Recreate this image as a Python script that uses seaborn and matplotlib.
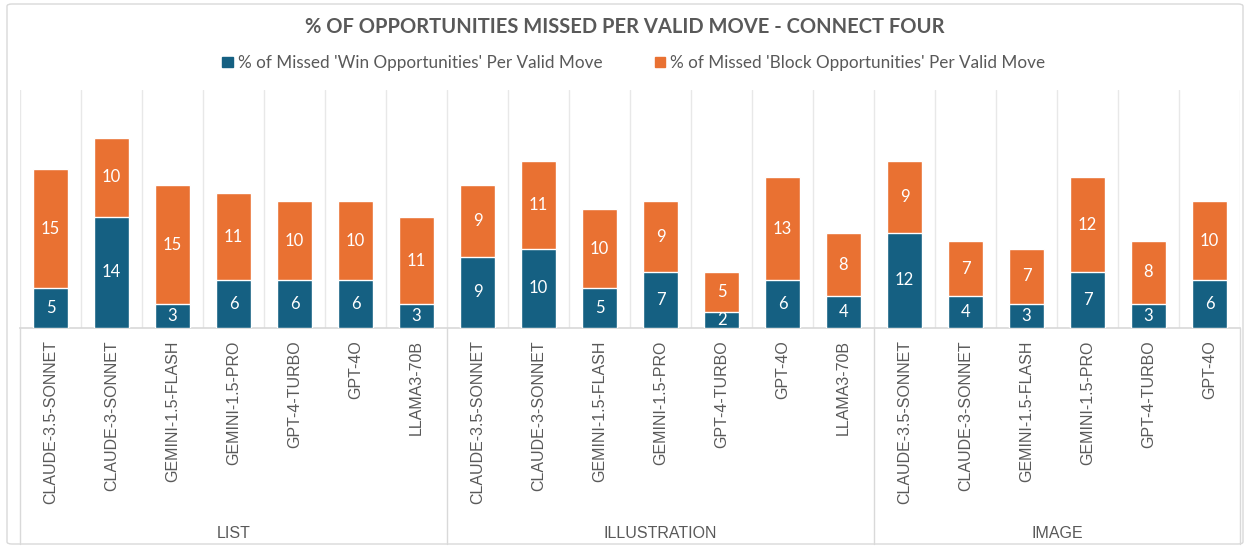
import numpy as np
import pandas as pd
import matplotlib
matplotlib.use('Agg')
import matplotlib.pyplot as plt
import matplotlib.transforms as mtransforms
from matplotlib.patches import Patch, FancyBboxPatch
import seaborn as sns

# Data
models = ['CLAUDE-3.5-SONNET', 'CLAUDE-3-SONNET', 'GEMINI-1.5-FLASH', 'GEMINI-1.5-PRO',
          'GPT-4-TURBO', 'GPT-4O', 'LLAMA3-70B',
          'CLAUDE-3.5-SONNET', 'CLAUDE-3-SONNET', 'GEMINI-1.5-FLASH', 'GEMINI-1.5-PRO',
          'GPT-4-TURBO', 'GPT-4O', 'LLAMA3-70B',
          'CLAUDE-3.5-SONNET', 'CLAUDE-3-SONNET', 'GEMINI-1.5-FLASH', 'GEMINI-1.5-PRO',
          'GPT-4-TURBO', 'GPT-4O']
groups = ['LIST', 'ILLUSTRATION', 'IMAGE']
group_sizes = [7, 7, 6]
win_pct = [5, 14, 3, 6, 6, 6, 3,
           9, 10, 5, 7, 2, 6, 4,
           12, 4, 3, 7, 3, 6]
block_pct = [15, 10, 15, 11, 10, 10, 11,
             9, 11, 10, 9, 5, 13, 8,
             9, 7, 7, 12, 8, 10]

BLUE = '#156082'
ORANGE = '#E97132'
TEXT = '#595959'
LINE = '#D9D9D9'
GRID = '#E8E8E8'
AXIS_FONT = ['Liberation Sans', 'DejaVu Sans']

df = pd.DataFrame({'pos': range(len(models)), 'model': models,
                   'win': win_pct, 'block': block_pct})
df['total'] = df['win'] + df['block']

sns.set_theme(style='white')
plt.rcParams['font.family'] = ['Lato', 'DejaVu Sans']

fig = plt.figure(figsize=(12.5, 5.48), dpi=100)
ax = fig.add_axes([0.016, 0.4015, 0.976, 0.434])

sns.barplot(data=df, x='pos', y='total', color=ORANGE, width=0.56, saturation=1, ax=ax, zorder=2)
sns.barplot(data=df, x='pos', y='win', color=BLUE, width=0.56, saturation=1, ax=ax, zorder=3)

ax.set_xlim(-0.5, len(models) - 0.5)
ax.set_ylim(0, 30)

# vertical gridlines between bars
for b in np.arange(-0.5, len(models)):
    ax.axvline(b, color=GRID, lw=1, zorder=0)

for s in ['top', 'left', 'right']:
    ax.spines[s].set_visible(False)
ax.spines['bottom'].set_color(LINE)

ax.set_yticks([])
ax.tick_params(axis='x', length=0, pad=9)
ax.set_xticks(range(len(models)), labels=models)
for lbl in ax.get_xticklabels():
    lbl.set_rotation(90)
    lbl.set_fontsize(11.5)
    lbl.set_color(TEXT)
    lbl.set_fontfamily(AXIS_FONT)
ax.set_xlabel('')
ax.set_ylabel('')

# segment labels
for i, (w, b) in enumerate(zip(win_pct, block_pct)):
    ax.text(i, w / 2, str(w), ha='center', va='center', color='white', fontsize=12, zorder=4)
    ax.text(i, w + b / 2, str(b), ha='center', va='center', color='white', fontsize=12, zorder=4)

# group separators and labels below the axis
trans = mtransforms.blended_transform_factory(ax.transData, ax.transAxes)
bounds = np.concatenate([[0], np.cumsum(group_sizes)]) - 0.5
for b in bounds:
    ax.plot([b, b], [0, -0.91], transform=trans, clip_on=False, color=LINE, lw=1)
for g, lo, hi in zip(groups, bounds[:-1], bounds[1:]):
    ax.text((lo + hi) / 2, -0.866, g, transform=trans, ha='center', va='center',
            fontsize=11.5, color=TEXT, fontfamily=AXIS_FONT)

# legend and title
handles = [Patch(color=BLUE), Patch(color=ORANGE)]
labels = ["% of Missed 'Win Opportunities' Per Valid Move",
          "% of Missed 'Block Opportunities' Per Valid Move"]
leg = fig.legend(handles, labels, loc='center', bbox_to_anchor=(0.507, 1 - 63 / 548), ncol=2,
                 frameon=False, fontsize=12.3, handlelength=0.6, handleheight=0.6,
                 columnspacing=3.05, handletextpad=0.3)
for t in leg.get_texts():
    t.set_color(TEXT)

fig.text(0.5, 1 - 27 / 548, '% OF OPPORTUNITIES MISSED PER VALID MOVE - CONNECT FOUR',
         ha='center', va='center', fontsize=14.5, fontweight='bold', color=TEXT)

# outer chart border
border = FancyBboxPatch((7 / 1250, 4 / 548), 1236 / 1250, 540 / 548,
                        boxstyle='round,pad=0,rounding_size=0.004',
                        transform=fig.transFigure, fill=False, edgecolor=LINE, lw=1)
fig.patches.append(border)

fig.savefig('out.png', dpi=100)
